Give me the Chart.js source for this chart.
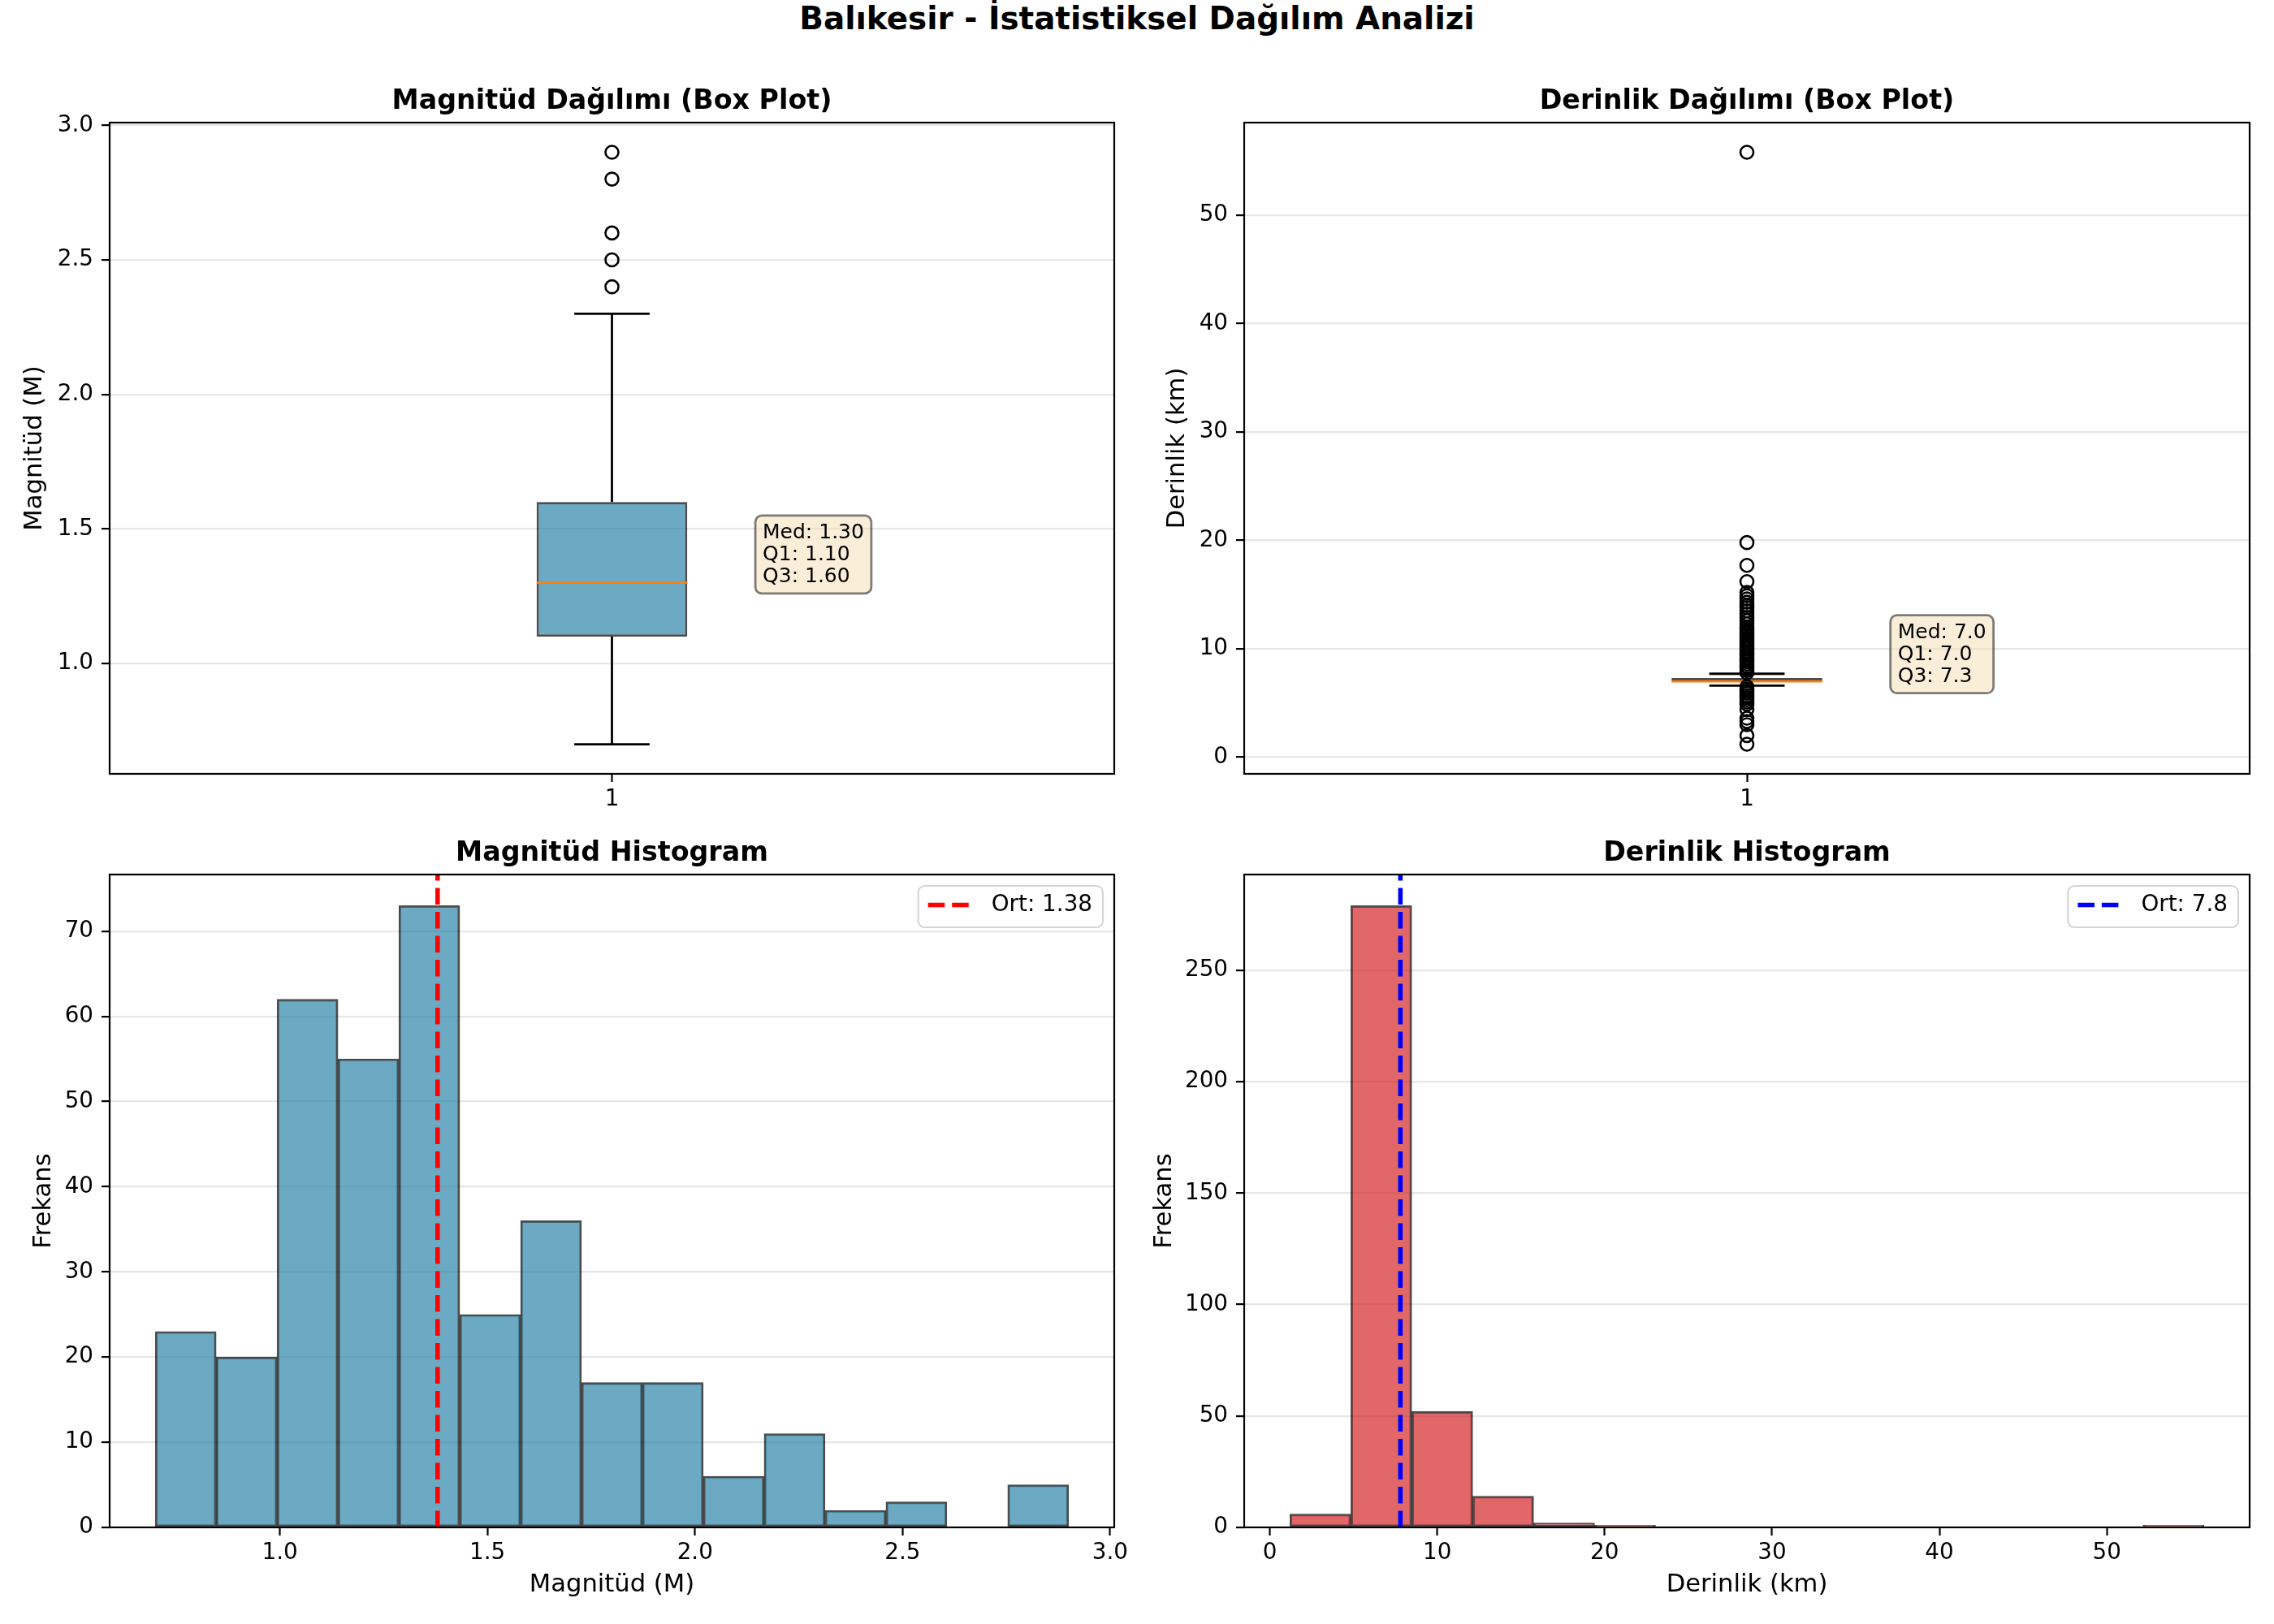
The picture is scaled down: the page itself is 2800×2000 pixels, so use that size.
<!DOCTYPE html>
<html>
<head>
<meta charset="utf-8">
<script src="https://cdn.jsdelivr.net/npm/chart.js@4.4.1/dist/chart.umd.min.js"></script>
<style>
  body { margin: 0; background: #fff; }
  #fig { position: relative; width: 2800px; height: 2000px; background: #fff; overflow: hidden; }
  #fig canvas { position: absolute; }
  #suptitle { position: absolute; left: 0; top: 0; width: 2800px; text-align: center;
              font: bold 38.9px "DejaVu Sans"; line-height: 46px; color: #000; }
</style>
</head>
<body>
<div id="fig">
  <div id="suptitle">Balıkesir - İstatistiksel Dağılım Analizi</div>
  <canvas id="magBox" width="1402" height="982" style="left:0px;top:60px"></canvas>
  <canvas id="depthBox" width="1403" height="982" style="left:1397px;top:60px"></canvas>
  <canvas id="magHist" width="1402" height="970" style="left:0px;top:1000px"></canvas>
  <canvas id="depthHist" width="1403" height="970" style="left:1397px;top:1000px"></canvas>
</div>
<script>
// box plot stats: lower whisker, Q1, median, Q3, upper whisker
var magBox = [0.7, 1.1, 1.3, 1.6, 2.3];
var magOutliers = [2.4, 2.5, 2.6, 2.8, 2.9];
var depthBox = [6.6, 7.0, 7.0, 7.3, 7.7];
var depthOutliers = [1.2, 2.0, 3.0, 3.3, 3.6, 4.4, 4.9, 5.1, 5.3, 5.5, 5.7, 5.9, 6.1, 6.3, 6.5,
                     7.8, 8.0, 8.2, 8.4, 8.6, 8.8, 9.0, 9.2, 9.4, 9.6, 9.8, 10.0, 10.2, 10.4, 10.6,
                     10.8, 11.0, 11.2, 11.4, 11.6, 11.8, 12.0, 12.3, 12.6, 12.9, 13.2, 13.5, 13.8,
                     14.0, 14.3, 14.6, 14.9, 15.2, 16.2, 17.7, 19.8, 55.8];

// histograms, 15 equal bins between the data min and max
var magRange = [0.7, 2.9];
var magCounts = [23, 20, 62, 55, 73, 25, 36, 17, 17, 6, 11, 2, 3, 0, 5];
var magMean = 1.38;
var depthRange = [1.2, 55.8];
var depthCounts = [6, 279, 52, 14, 2, 1, 0, 0, 0, 0, 0, 0, 0, 0, 1];
var depthMean = 7.8;

// tick labels
var boxXTicks = [1];
var magTicks = [1.0, 1.5, 2.0, 2.5, 3.0];
var depthTicks = [0, 10, 20, 30, 40, 50];
var magFreqTicks = [0, 10, 20, 30, 40, 50, 60, 70];
var depthFreqTicks = [0, 50, 100, 150, 200, 250];

Chart.defaults.font.family = '"DejaVu Sans"';
Chart.defaults.color = '#000';

var tickFont = { size: 27.8 };
var labelFont = { size: 30.6 };
var boxWidth = 0.15;

function fixedTicks(values) {
  return function (scale) {
    scale.ticks = values.map(function (v) { return { value: v }; });
  };
}

function xAxis(min, max, ticks, digits, title) {
  return {
    type: 'linear', min: min, max: max, offset: false,
    afterBuildTicks: fixedTicks(ticks),
    afterFit: function (s) { s.height = 89; },
    grid: { display: true, drawOnChartArea: false, drawTicks: true, tickLength: 10,
            tickColor: '#000', tickWidth: 2.2, offset: false },
    border: { display: false },
    ticks: { font: tickFont, padding: 5, maxRotation: 0, autoSkip: false,
             callback: function (v) { return v.toFixed(digits); } },
    title: title ? { display: true, text: title, font: labelFont, padding: 0 } : { display: false }
  };
}

function yAxis(min, max, ticks, digits, title, titlePad) {
  return {
    type: 'linear', min: min, max: max, z: 1,
    afterBuildTicks: fixedTicks(ticks),
    afterFit: function (s) { s.width = 135; },
    grid: { color: 'rgba(176,176,176,0.3)', lineWidth: 2.2, drawTicks: true, tickLength: 10,
            tickColor: '#000', tickWidth: 2.2 },
    border: { display: false },
    ticks: { font: tickFont, padding: 10, autoSkip: false,
             callback: function (v) { return v.toFixed(digits); } },
    title: { display: true, text: title, font: labelFont, padding: { top: titlePad, bottom: 0 } }
  };
}

function roundRect(ctx, x, y, w, h, r) {
  ctx.beginPath();
  ctx.moveTo(x + r, y);
  ctx.arcTo(x + w, y, x + w, y + h, r);
  ctx.arcTo(x + w, y + h, x, y + h, r);
  ctx.arcTo(x, y + h, x, y, r);
  ctx.arcTo(x, y, x + w, y, r);
  ctx.closePath();
}

// frame, subplot title, stats note and legend, drawn on top like matplotlib does
var panelDecor = {
  id: 'panelDecor',
  afterDraw: function (chart, args, opts) {
    var ctx = chart.ctx, a = chart.chartArea;
    ctx.save();
    ctx.strokeStyle = '#000';
    ctx.lineWidth = 2.2;
    ctx.strokeRect(a.left, a.top, a.right - a.left, a.bottom - a.top);

    ctx.fillStyle = '#000';
    ctx.font = 'bold 33.3px "DejaVu Sans"';
    ctx.textAlign = 'center';
    ctx.textBaseline = 'alphabetic';
    ctx.fillText(opts.title, (a.left + a.right) / 2, a.top - 17);

    if (opts.note) {
      var n = opts.note;
      var x0 = chart.scales.x.getPixelForValue(n.x);
      var yc = chart.scales.y.getPixelForValue(n.y);
      ctx.font = '25px "DejaVu Sans"';
      var w = Math.max.apply(null, n.lines.map(function (l) { return ctx.measureText(l).width; }));
      roundRect(ctx, x0 - 9, yc - 48, w + 18, 96, 8);
      ctx.fillStyle = 'rgba(245,222,179,0.5)';
      ctx.fill();
      ctx.strokeStyle = 'rgba(0,0,0,0.5)';
      ctx.lineWidth = 2.8;
      ctx.stroke();
      ctx.fillStyle = '#000';
      ctx.textAlign = 'left';
      n.lines.forEach(function (l, i) { ctx.fillText(l, x0, yc - 20 + i * 27); });
    }

    if (opts.legend) {
      var g = opts.legend;
      ctx.font = '27.8px "DejaVu Sans"';
      var tw = ctx.measureText(g.label).width;
      var lw = 12 + 50 + 28 + tw + 13, lh = 51;
      var lx = a.right - 14 - lw, ly = a.top + 14;
      roundRect(ctx, lx, ly, lw, lh, 8);
      ctx.fillStyle = 'rgba(255,255,255,0.8)';
      ctx.fill();
      ctx.strokeStyle = '#d6d6d6';
      ctx.lineWidth = 2.2;
      ctx.stroke();
      ctx.beginPath();
      ctx.setLineDash([20.6, 8.9]);
      ctx.strokeStyle = g.color;
      ctx.lineWidth = 5.56;
      ctx.moveTo(lx + 12, ly + lh / 2 - 2);
      ctx.lineTo(lx + 62, ly + lh / 2 - 2);
      ctx.stroke();
      ctx.setLineDash([]);
      ctx.fillStyle = '#000';
      ctx.textAlign = 'left';
      ctx.textBaseline = 'middle';
      ctx.fillText(g.label, lx + 90, ly + lh / 2 - 2);
    }
    ctx.restore();
  }
};

function boxDatasets(stats, outliers) {
  var lo = stats[0], q1 = stats[1], med = stats[2], q3 = stats[3], hi = stats[4];
  var half = boxWidth / 2, cap = boxWidth / 4;
  function seg(pts, color, order) {
    return { type: 'scatter', data: pts, showLine: true, borderColor: color, borderWidth: 2.8,
             pointRadius: 0, order: order };
  }
  return [
    { type: 'bar', data: [{ x: 1, y: [q1, q3] }], backgroundColor: 'rgba(46,134,171,0.7)',
      borderColor: 'rgba(0,0,0,0.7)', borderWidth: 2.8, borderSkipped: false,
      barPercentage: boxWidth, categoryPercentage: 1, order: 5 },
    seg([{ x: 1, y: lo }, { x: 1, y: q1 }], '#000', 4),
    seg([{ x: 1, y: q3 }, { x: 1, y: hi }], '#000', 4),
    seg([{ x: 1 - cap, y: lo }, { x: 1 + cap, y: lo }], '#000', 4),
    seg([{ x: 1 - cap, y: hi }, { x: 1 + cap, y: hi }], '#000', 4),
    seg([{ x: 1 - half, y: med }, { x: 1 + half, y: med }], '#ff7f0e', 1),
    { type: 'scatter', data: outliers.map(function (v) { return { x: 1, y: v }; }),
      pointRadius: 8, pointBorderWidth: 2.6, pointBorderColor: '#000',
      pointBackgroundColor: 'rgba(0,0,0,0)', order: 0 }
  ];
}

function histDatasets(range, counts, mean, yMax, fill, lineColor) {
  var w = (range[1] - range[0]) / counts.length;
  return [
    { type: 'scatter', data: [{ x: mean, y: 0 }, { x: mean, y: yMax }], showLine: true,
      borderColor: lineColor, borderWidth: 5.56, borderDash: [20.6, 8.9], pointRadius: 0, order: 0 },
    { type: 'bar', data: counts.map(function (c, i) { return { x: range[0] + w * (i + 0.5), y: c }; }),
      backgroundColor: fill, borderColor: 'rgba(0,0,0,0.7)',
      borderWidth: function (ctx) { return counts[ctx.dataIndex] > 0 ? 2.4 : 0; },
      borderSkipped: false, barPercentage: 1, categoryPercentage: 1, order: 1 }
  ];
}

function makeChart(id, datasets, scales, top, decor) {
  return new Chart(document.getElementById(id), {
    type: 'scatter',
    data: { datasets: datasets },
    options: {
      responsive: false, animation: false, devicePixelRatio: 1, events: [],
      layout: { padding: { left: 0, right: 30, top: top, bottom: 0 } },
      scales: scales,
      plugins: { legend: { display: false }, tooltip: { enabled: false }, panelDecor: decor }
    },
    plugins: [panelDecor]
  });
}

window.onload = function () {
  makeChart('magBox', boxDatasets(magBox, magOutliers), {
    x: xAxis(0.5, 1.5, boxXTicks, 0, null),
    y: yAxis(0.59, 3.01, magTicks, 1, 'Magnitüd (M)', 25)
  }, 91, {
    title: 'Magnitüd Dağılımı (Box Plot)',
    note: { x: 1.15, y: 1.405, lines: ['Med: ' + magBox[2].toFixed(2), 'Q1: ' + magBox[1].toFixed(2), 'Q3: ' + magBox[3].toFixed(2)] }
  });

  makeChart('depthBox', boxDatasets(depthBox, depthOutliers), {
    x: xAxis(0.5, 1.5, boxXTicks, 0, null),
    y: yAxis(-1.53, 58.53, depthTicks, 0, 'Derinlik (km)', 35)
  }, 91, {
    title: 'Derinlik Dağılımı (Box Plot)',
    note: { x: 1.15, y: 9.5, lines: ['Med: ' + depthBox[2].toFixed(1), 'Q1: ' + depthBox[1].toFixed(1), 'Q3: ' + depthBox[3].toFixed(1)] }
  });

  makeChart('magHist', histDatasets(magRange, magCounts, magMean, 76.65, 'rgba(46,134,171,0.7)', '#ff0000'), {
    x: xAxis(0.59, 3.01, magTicks, 1, 'Magnitüd (M)'),
    y: yAxis(0, 76.65, magFreqTicks, 0, 'Frekans', 36)
  }, 77, {
    title: 'Magnitüd Histogram',
    legend: { label: 'Ort: ' + magMean.toFixed(2), color: '#ff0000' }
  });

  makeChart('depthHist', histDatasets(depthRange, depthCounts, depthMean, 292.95, 'rgba(214,39,40,0.7)', '#0000ff'), {
    x: xAxis(-1.53, 58.53, depthTicks, 0, 'Derinlik (km)'),
    y: yAxis(0, 292.95, depthFreqTicks, 0, 'Frekans', 19)
  }, 77, {
    title: 'Derinlik Histogram',
    legend: { label: 'Ort: ' + depthMean.toFixed(1), color: '#0000ff' }
  });
};
</script>
</body>
</html>
